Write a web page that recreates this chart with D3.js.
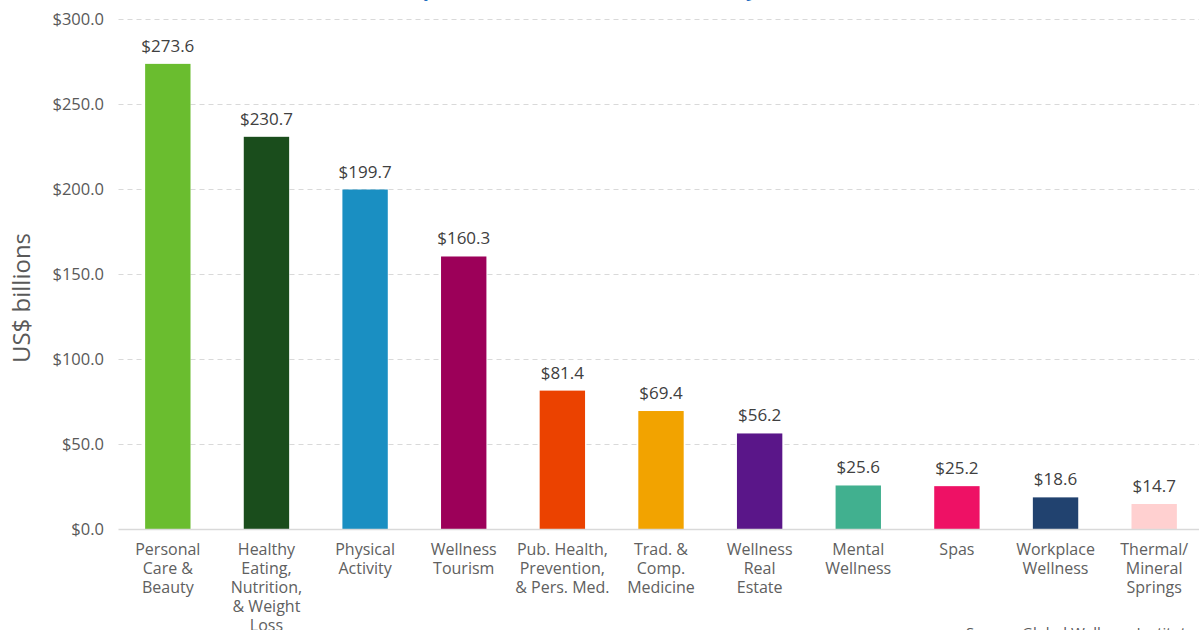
<!DOCTYPE html>
<html>
<head>
<meta charset="utf-8">
<script src="https://cdn.jsdelivr.net/npm/d3@7"></script>
<style>
  html, body { margin: 0; padding: 0; background: #fff; }
  svg { display: block; font-family: "Open Sans", sans-serif; }
</style>
</head>
<body>
<svg id="chart" width="1199" height="630"></svg>
<script>
// Wellness economy sectors and market size (US$ billions)
const categories = [
  ["Personal", "Care &", "Beauty"],
  ["Healthy", "Eating,", "Nutrition,", "& Weight", "Loss"],
  ["Physical", "Activity"],
  ["Wellness", "Tourism"],
  ["Pub. Health,", "Prevention,", "& Pers. Med."],
  ["Trad. &", "Comp.", "Medicine"],
  ["Wellness", "Real", "Estate"],
  ["Mental", "Wellness"],
  ["Spas"],
  ["Workplace", "Wellness"],
  ["Thermal/", "Mineral", "Springs"]
];
const values = [273.6, 230.7, 199.7, 160.3, 81.4, 69.4, 56.2, 25.6, 25.2, 18.6, 14.7];
const colors = ["#6abd2f", "#1a4d1c", "#1a8fc2", "#9c0059", "#eb4200", "#f2a300",
                "#5a1689", "#41b08f", "#ee1165", "#21426f", "#ffd0d0"];
const yTicks = [0, 50, 100, 150, 200, 250, 300];

const svg = d3.select("#chart");
const W = 1199, H = 630;
const plot = { left: 118.5, right: 1203.5, top: 19, bottom: 529 };

const x = d3.scaleBand()
  .domain(d3.range(values.length))
  .range([plot.left, plot.right])
  .paddingInner(0.54)
  .paddingOuter(0.27);

const y = d3.scaleLinear().domain([0, 300]).range([plot.bottom, plot.top]);

// Title (runs above the visible area)
svg.append("text")
  .attr("x", 600).attr("y", -4)
  .attr("text-anchor", "middle")
  .attr("font-size", 20).attr("font-weight", 700)
  .attr("fill", "#1f6fc1")
  .text("Composition of the Wellness Economy (2020)");

// Dashed horizontal gridlines
svg.append("g")
  .selectAll("line")
  .data(yTicks.filter(d => d > 0))
  .join("line")
  .attr("x1", plot.left).attr("x2", W)
  .attr("y1", d => Math.round(y(d)) + 0.5).attr("y2", d => Math.round(y(d)) + 0.5)
  .attr("stroke", "#d9d9d9").attr("stroke-width", 1)
  .attr("stroke-dasharray", "5,4");

// Y axis tick labels
const yAxis = d3.axisLeft(y)
  .tickValues(yTicks)
  .tickSize(0)
  .tickPadding(0)
  .tickFormat(d => "$" + d3.format(".1f")(d));
const gy = svg.append("g").attr("transform", `translate(104,0)`).call(yAxis);
gy.select(".domain").remove();
gy.selectAll("text")
  .attr("font-family", "'Open Sans', sans-serif")
  .attr("font-size", 16.5).attr("fill", "#595959");

// Bars
svg.append("g")
  .selectAll("rect")
  .data(values)
  .join("rect")
  .attr("x", (d, i) => x(i))
  .attr("width", x.bandwidth())
  .attr("y", d => y(d))
  .attr("height", d => y(0) - y(d))
  .attr("fill", (d, i) => colors[i]);

// Baseline
svg.append("line")
  .attr("x1", plot.left).attr("x2", W)
  .attr("y1", plot.bottom + 0.5).attr("y2", plot.bottom + 0.5)
  .attr("stroke", "#d9d9d9").attr("stroke-width", 1.5);

// Value labels
svg.append("g")
  .selectAll("text")
  .data(values)
  .join("text")
  .attr("x", (d, i) => x(i) + x.bandwidth() / 2)
  .attr("y", d => y(d) - 12)
  .attr("text-anchor", "middle")
  .attr("font-size", 17).attr("fill", "#404040")
  .text(d => "$" + d3.format(".1f")(d));

// Category labels
const cat = svg.append("g")
  .selectAll("text")
  .data(categories)
  .join("text")
  .attr("x", (d, i) => x(i) + x.bandwidth() / 2)
  .attr("y", 555)
  .attr("text-anchor", "middle")
  .attr("font-size", 16).attr("fill", "#606060");
cat.selectAll("tspan")
  .data(d => d)
  .join("tspan")
  .attr("x", function () { return d3.select(this.parentNode).attr("x"); })
  .attr("dy", (d, i) => i === 0 ? 0 : 19)
  .text(d => d);

// Y axis title
svg.append("text")
  .attr("transform", `translate(30,298) rotate(-90)`)
  .attr("text-anchor", "middle")
  .attr("font-size", 24).attr("fill", "#595959")
  .text("US$ billions");

// Source note
svg.append("text")
  .attr("x", 966).attr("y", 638)
  .attr("font-size", 15).attr("fill", "#595959")
  .text("Source: Global Wellness Institute");
</script>
</body>
</html>
